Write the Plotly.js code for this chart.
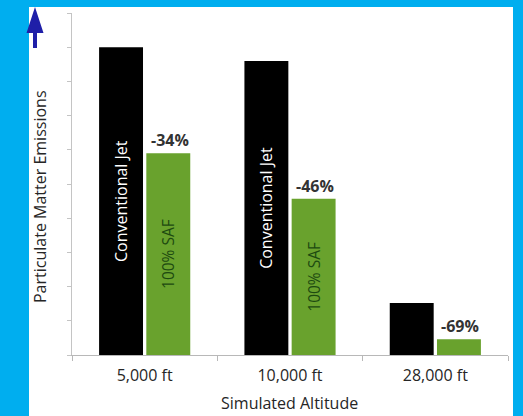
<!DOCTYPE html>
<html>
<head>
<meta charset="utf-8">
<script src="https://cdn.plot.ly/plotly-3.0.1.min.js"></script>
<style>html,body{margin:0;padding:0;background:#00aeef;}#chart{width:523px;height:416px;}</style>
</head>
<body>
<div id="chart"></div>
<script>
// ---- data ----
var categories = ['5,000 ft', '10,000 ft', '28,000 ft'];
var conventionalJet = [9.0, 8.6, 1.52];
var saf100 = [5.9, 4.57, 0.46];
var reductionLabels = ['-34%', '-46%', '-69%'];
var conventionalInsideText = ['Conventional Jet', 'Conventional Jet', ''];
var safInsideText = ['100% SAF', '100% SAF', ''];
var xTitle = 'Simulated Altitude';
var yTitle = 'Particulate Matter Emissions';

// ---- layout helpers (pixel -> paper) ----
var W = 523, H = 416, M = {l: 72, r: 15, t: 13, b: 61};
var PW = W - M.l - M.r, PH = H - M.t - M.b;
function px(x) { return (x - M.l) / PW; }
function py(y) { return (H - M.b - y) / PH; }

var FONT = 'Open Sans, DejaVu Sans, sans-serif';

var traces = [
  {
    type: 'bar', name: 'Conventional Jet', x: categories, y: conventionalJet,
    marker: {color: '#000000'},
    text: conventionalInsideText, textposition: 'inside', insidetextanchor: 'middle',
    textangle: -90, insidetextfont: {family: FONT, size: 16, color: '#ffffff'},
    hoverinfo: 'skip'
  },
  {
    type: 'bar', name: '100% SAF', x: categories, y: saf100,
    marker: {color: '#69a22d'},
    text: safInsideText, textposition: 'inside', insidetextanchor: 'middle',
    textangle: -90, insidetextfont: {family: FONT, size: 15.5, color: '#1d4a10'},
    hoverinfo: 'skip'
  }
];

var annotations = categories.map(function (c, i) {
  return {
    x: c, y: saf100[i], xref: 'x', yref: 'y', xshift: 25, yshift: 0,
    xanchor: 'center', yanchor: 'bottom', showarrow: false,
    text: '<b>' + reductionLabels[i] + '</b>',
    font: {family: FONT, size: 16, color: '#333333'}
  };
});
annotations.push({
  x: px(40), y: py(197), xref: 'paper', yref: 'paper', showarrow: false,
  xanchor: 'center', yanchor: 'middle',
  textangle: -90, text: yTitle, font: {family: FONT, size: 16, color: '#262626'}
});
annotations.push({
  x: px(289), y: py(415), xref: 'paper', yref: 'paper', showarrow: false,
  xanchor: 'center', yanchor: 'bottom', borderpad: 0,
  text: xTitle, font: {family: FONT, size: 16, color: '#262626'}
});

var layout = {
  width: W, height: H,
  margin: M,
  paper_bgcolor: '#00aeef',
  plot_bgcolor: '#ffffff',
  showlegend: false,
  barmode: 'group', bargap: 0.35, bargroupgap: 0.07,
  font: {family: FONT, color: '#262626'},
  xaxis: {
    type: 'category', showgrid: false, zeroline: false,
    showline: true, linecolor: '#b8b8b8', linewidth: 1,
    ticks: 'outside', tickson: 'boundaries', ticklen: 5, tickcolor: '#b8b8b8',
    tickfont: {family: FONT, size: 16, color: '#262626'}, ticklabelstandoff: 6
  },
  yaxis: {
    range: [0, 10], dtick: 1, showgrid: false, zeroline: false,
    showline: true, linecolor: '#c4c4c4', linewidth: 1,
    ticks: 'outside', ticklen: 4, tickcolor: '#c4c4c4', showticklabels: false
  },
  shapes: [
    {type: 'rect', xref: 'paper', yref: 'paper', layer: 'below',
     x0: px(29), x1: px(513), y0: py(420), y1: py(7),
     fillcolor: '#ffffff', line: {width: 0}},
    {type: 'path', xref: 'paper', yref: 'paper', layer: 'above',
     path: 'M' + px(35) + ',' + py(7) + ' L' + px(43.5) + ',' + py(33) +
           ' L' + px(37) + ',' + py(33) + ' L' + px(37) + ',' + py(48) +
           ' L' + px(33) + ',' + py(48) + ' L' + px(33) + ',' + py(33) +
           ' L' + px(26.5) + ',' + py(33) + ' Z',
     fillcolor: '#1f1fa8', line: {width: 0}}
  ],
  annotations: annotations
};

Plotly.newPlot('chart', traces, layout, {displayModeBar: false, staticPlot: true});
</script>
</body>
</html>
